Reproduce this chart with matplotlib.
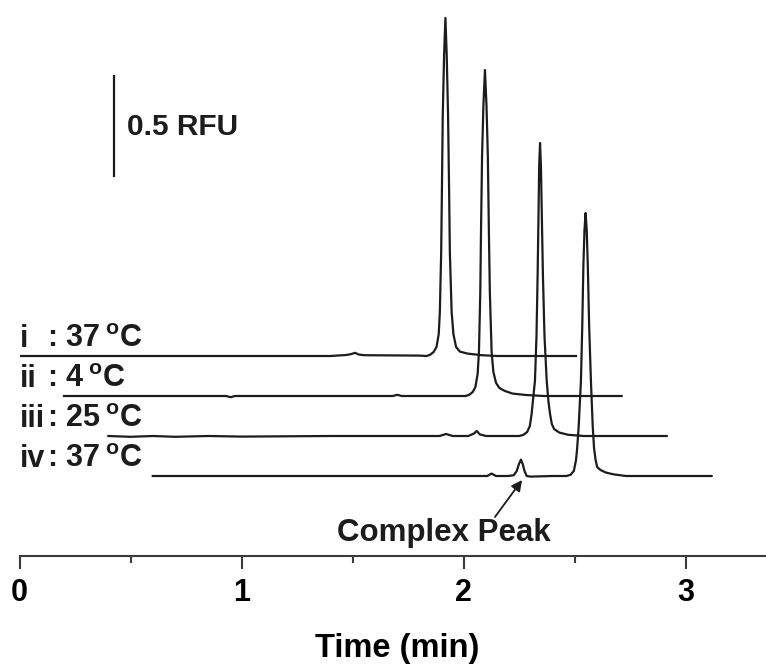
import matplotlib
matplotlib.use("Agg")
import matplotlib.pyplot as plt

plt.rcParams["font.family"] = ["Liberation Sans", "DejaVu Sans"]
plt.rcParams["font.weight"] = "bold"
plt.rcParams["mathtext.fontset"] = "custom"
plt.rcParams["mathtext.rm"] = "Liberation Sans:bold"
plt.rcParams["mathtext.bf"] = "Liberation Sans:bold"

# electropherograms, raw migration time (min) vs signal (RFU)
t_i = [0.00, 0.60, 1.20, 1.40, 1.47, 1.495, 1.51, 1.525, 1.55, 1.80,
       1.832, 1.848, 1.864, 1.877, 1.887, 1.892, 1.898, 1.901, 1.905, 1.911,
       1.917, 1.923, 1.929, 1.934, 1.937, 1.945, 1.953, 1.965, 1.982, 2.017,
       2.080, 2.150, 2.350, 2.505]
y_i = [0.0, 0.0, 0.0, 0.0, 0.005, 0.01, 0.016, 0.008, 0.004, 0.002,
       0.0, 0.006, 0.02, 0.045, 0.11, 0.22, 0.52, 0.80, 1.20, 1.50,
       1.69, 1.50, 1.20, 0.80, 0.52, 0.22, 0.11, 0.045, 0.022, 0.012,
       0.004, 0.0, 0.0, 0.0]

t_ii = [0.00, 0.50, 0.73, 0.75, 0.77, 1.20, 1.48, 1.50, 1.52, 1.78,
        1.808, 1.824, 1.840, 1.852, 1.862, 1.868, 1.874, 1.877, 1.882, 1.888,
        1.895, 1.902, 1.908, 1.913, 1.917, 1.925, 1.933, 1.945, 1.960, 1.985,
        2.020, 2.080, 2.160, 2.350, 2.510]
y_ii = [0.0, 0.0, 0.0, -0.006, 0.0, 0.0, 0.0, 0.006, 0.0, 0.0,
        0.0, 0.006, 0.02, 0.045, 0.11, 0.22, 0.52, 0.80, 1.20, 1.45,
        1.63, 1.45, 1.20, 0.80, 0.52, 0.22, 0.12, 0.065, 0.04, 0.025,
        0.012, 0.005, 0.0, 0.0, 0.0]

t_iii = [0.00, 0.10, 0.20, 0.30, 0.45, 0.60, 1.00, 1.49, 1.52, 1.55,
         1.62, 1.645, 1.658, 1.672, 1.70, 1.80,
         1.850, 1.868, 1.885, 1.897, 1.905, 1.913, 1.920, 1.927, 1.932, 1.936,
         1.939, 1.943, 1.947, 1.951, 1.956, 1.963, 1.973, 1.981, 1.988, 1.996,
         2.006, 2.030, 2.070, 2.140, 2.350, 2.513]
y_iii = [0.0, -0.004, 0.0, -0.004, 0.0, -0.003, 0.0, 0.0, 0.01, 0.0,
         0.0, 0.012, 0.025, 0.008, 0.0, 0.0,
         0.0, 0.006, 0.02, 0.05, 0.11, 0.20, 0.275, 0.50, 0.80, 1.10,
         1.35, 1.465, 1.35, 1.10, 0.80, 0.50, 0.275, 0.17, 0.11, 0.06,
         0.035, 0.017, 0.006, 0.0, 0.0, 0.0]

t_iv = [0.00, 0.50, 1.00, 1.40, 1.505, 1.525, 1.545, 1.60, 1.625, 1.638,
        1.648, 1.657, 1.665, 1.673, 1.683, 1.70, 1.80,
        1.862, 1.880, 1.895, 1.905, 1.910, 1.917, 1.927, 1.933, 1.938, 1.943,
        1.948, 1.953, 1.958, 1.964, 1.972, 1.980, 1.986, 1.993, 2.000, 2.015,
        2.040, 2.075, 2.130, 2.300, 2.515]
y_iv = [0.0, 0.0, 0.0, 0.0, 0.0, 0.012, 0.0, 0.0, 0.004, 0.025,
        0.06, 0.082, 0.06, 0.025, 0.0, -0.003, 0.0,
        0.0, 0.006, 0.025, 0.08, 0.14, 0.25, 0.475, 0.75, 1.05, 1.23,
        1.315, 1.23, 1.05, 0.75, 0.475, 0.25, 0.14, 0.08, 0.045, 0.03,
        0.017, 0.008, 0.0, 0.0, 0.0]

traces = [(t_i, y_i), (t_ii, y_ii), (t_iii, y_iii), (t_iv, y_iv)]
x_shift = [0.0, 0.2, 0.4, 0.6]
y_shift = [0.6, 0.4, 0.2, 0.0]
numerals = ["i", "ii", "iii", "iv"]
temps = ["37", "4", "25", "37"]

fig = plt.figure(figsize=(7.66, 6.66), dpi=100)
ax = fig.add_axes([19.5 / 766, 110 / 666, 1 - 19.5 / 766, 556 / 666])

ink = "#1c1c1c"
for (t, y), dx, dy in zip(traces, x_shift, y_shift):
    ax.plot([v + dx for v in t], [v + dy for v in y], color=ink, lw=1.6,
            solid_joinstyle="round")

for num, temp, dy in zip(numerals, temps, y_shift):
    ax.text(0.0, dy + 0.045, num, fontsize=22, fontweight="bold",
            ha="left", va="baseline", color=ink)
    ax.text(0.125, dy + 0.045, ": " + temp + r"$\,^{\mathrm{o}}$C",
            fontsize=22, fontweight="bold", ha="left", va="baseline", color=ink)

# scale bar
ax.plot([0.425, 0.425], [1.5, 2.0], color=ink, lw=1.6)
ax.text(0.484, 1.745, "0.5 RFU", fontsize=21.5, fontweight="bold",
        ha="left", va="center", color=ink)

ax.annotate("", xy=(2.262, -0.02), xytext=(2.14, -0.205),
            arrowprops=dict(arrowstyle="-|>", color=ink, lw=1.3,
                            mutation_scale=16, shrinkA=0, shrinkB=0))
ax.text(1.91, -0.285, "Complex Peak", fontsize=22.5, fontweight="bold",
        ha="center", va="center", color=ink)

ax.set_xlim(0, 3.36)
ax.set_ylim(-0.4, 2.38)
for s in ["top", "right", "left"]:
    ax.spines[s].set_visible(False)
ax.spines["bottom"].set_color("#3a3a3a")
ax.spines["bottom"].set_linewidth(1.5)
ax.set_yticks([])
ax.set_xticks([0, 1, 2, 3])
ax.set_xticks([0.5, 1.5, 2.5], minor=True)
ax.tick_params(axis="x", which="major", direction="out", length=9, width=1.5,
               color="#3a3a3a", pad=7, labelsize=22)
ax.tick_params(axis="x", which="minor", direction="out", length=5, width=1.5,
               color="#3a3a3a")
for lab in ax.get_xticklabels():
    lab.set_fontweight("bold")

ax.set_xlabel("Time (min)", fontsize=23.5, fontweight="bold")
ax.xaxis.set_label_coords((397 - 19.5) / 746.5, (556 - 648) / 556)
ax.xaxis.label.set_va("center")

fig.savefig("out.png", dpi=100)
